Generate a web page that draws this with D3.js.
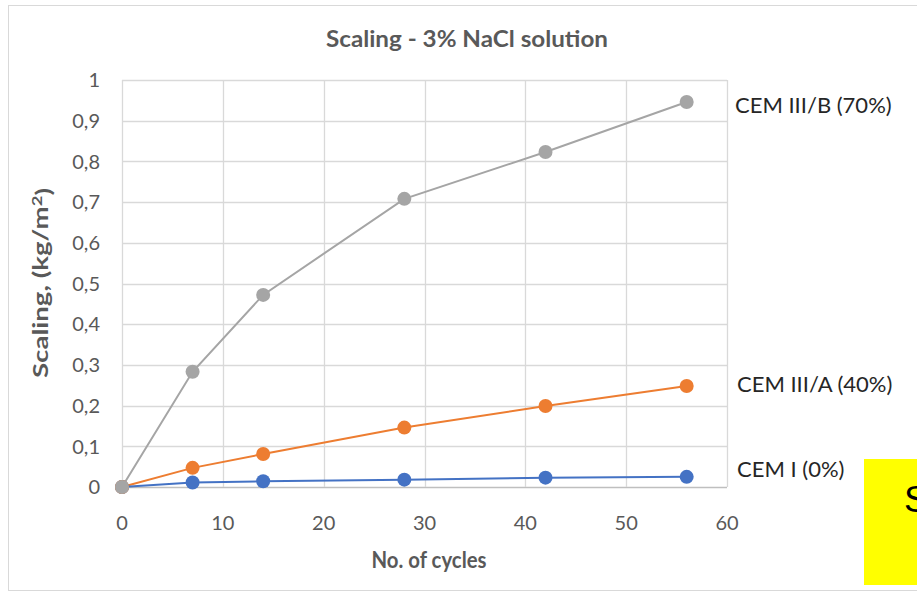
<!DOCTYPE html>
<html>
<head>
<meta charset="utf-8">
<script src="https://cdn.jsdelivr.net/npm/d3@7"></script>
<style>
  body { margin: 0; background: #fff; }
  svg { display: block; }
</style>
</head>
<body>
<div id="chart"></div>
<script>
var cycles = [0, 7, 14, 28, 42, 56]
var cemIIIB = [0, 0.283, 0.472, 0.708, 0.823, 0.946]
var cemIIIA = [0, 0.047, 0.081, 0.146, 0.199, 0.248]
var cemI = [0, 0.011, 0.014, 0.018, 0.023, 0.025]
var seriesNames = ['CEM III/B (70%)', 'CEM III/A (40%)', 'CEM I (0%)']
var xTicks = [0, 10, 20, 30, 40, 50, 60]
var yTicks = [0, 0.1, 0.2, 0.3, 0.4, 0.5, 0.6, 0.7, 0.8, 0.9, 1]

var w = 917
var h = 592
var font = "Lato, 'Open Sans', sans-serif"

var series = [
  { name: seriesNames[0], values: cemIIIB, color: '#a5a5a5' },
  { name: seriesNames[1], values: cemIIIA, color: '#ed7d31' },
  { name: seriesNames[2], values: cemI, color: '#4472c4' }
]
// label nudges (baseline below the last point)
var labelDy = [11, 6, 0]

var svg = d3.select('#chart')
  .append('svg')
  .attr('width', w)
  .attr('height', h)

// outer chart frame
svg.append('rect')
  .attr('x', 8.5)
  .attr('y', 5.5)
  .attr('width', w + 10)
  .attr('height', 585)
  .attr('fill', '#fff')
  .attr('stroke', '#d9d9d9')

var x = d3.scaleLinear().domain([0, 60]).range([122, 727])
var y = d3.scaleLinear().domain([0, 1]).range([487, 80])

// gridlines
svg.selectAll('.hgrid')
  .data(yTicks)
  .enter()
  .append('line')
  .attr('class', 'hgrid')
  .attr('x1', x(0))
  .attr('x2', x(60))
  .attr('y1', d => Math.round(y(d)) + 0.5)
  .attr('y2', d => Math.round(y(d)) + 0.5)
  .attr('stroke', d => d === 0 ? '#bfbfbf' : '#d9d9d9')
  .attr('stroke-width', 1.3)

svg.selectAll('.vgrid')
  .data(xTicks)
  .enter()
  .append('line')
  .attr('class', 'vgrid')
  .attr('x1', d => Math.round(x(d)) + 0.5)
  .attr('x2', d => Math.round(x(d)) + 0.5)
  .attr('y1', y(1))
  .attr('y2', y(0))
  .attr('stroke', '#d9d9d9')
  .attr('stroke-width', 1.3)

// tick labels
var fmt = d => d3.format('.1~f')(d).replace('.', ',')

svg.selectAll('.ylab')
  .data(yTicks)
  .enter()
  .append('text')
  .attr('x', 100)
  .attr('y', d => y(d))
  .attr('dy', '0.36em')
  .attr('text-anchor', 'end')
  .style('font-family', font)
  .style('font-size', '20px')
  .style('fill', '#595959')
  .text(fmt)

svg.selectAll('.xlab')
  .data(xTicks)
  .enter()
  .append('text')
  .attr('x', d => x(d))
  .attr('y', 530)
  .attr('text-anchor', 'middle')
  .style('font-family', font)
  .style('font-size', '20px')
  .style('fill', '#595959')
  .text(d => d)

// title and axis titles
svg.append('text')
  .attr('x', 467)
  .attr('y', 47)
  .attr('text-anchor', 'middle')
  .attr('textLength', 282)
  .attr('lengthAdjust', 'spacingAndGlyphs')
  .style('font-family', font)
  .style('font-size', '23px')
  .style('font-weight', 'bold')
  .style('fill', '#595959')
  .text('Scaling - 3% NaCl solution')

svg.append('text')
  .attr('x', 429)
  .attr('y', 568)
  .attr('text-anchor', 'middle')
  .attr('textLength', 115)
  .attr('lengthAdjust', 'spacingAndGlyphs')
  .style('font-family', font)
  .style('font-size', '23px')
  .style('font-weight', 'bold')
  .style('fill', '#595959')
  .text('No. of cycles')

var yTitle = svg.append('text')
  .attr('transform', 'translate(48,283) rotate(-90)')
  .attr('text-anchor', 'middle')
  .attr('textLength', 190)
  .attr('lengthAdjust', 'spacingAndGlyphs')
  .style('font-family', font)
  .style('font-size', '21px')
  .style('font-weight', 'bold')
  .style('fill', '#595959')
yTitle.append('tspan').text('Scaling, (kg/m')
yTitle.append('tspan').attr('dy', '-0.45em').style('font-size', '14px').text('2')
yTitle.append('tspan').attr('dy', '0.45em').text(')')

// lines and markers
var line = d3.line()
  .x((d, i) => x(cycles[i]))
  .y(d => y(d))

series.forEach(function(s) {
  svg.append('path')
    .datum(s.values)
    .attr('d', line)
    .attr('fill', 'none')
    .attr('stroke', s.color)
    .attr('stroke-width', 2)
})

series.slice().reverse().forEach(function(s) {
  svg.selectAll(null)
    .data(s.values)
    .enter()
    .append('circle')
    .attr('cx', (d, i) => x(cycles[i]))
    .attr('cy', d => y(d))
    .attr('r', 7)
    .attr('fill', s.color)
})

// series labels at the right end
svg.selectAll('.slab')
  .data(series)
  .enter()
  .append('text')
  .attr('x', (d, i) => i === 0 ? 735 : 737)
  .attr('y', (d, i) => y(d.values[d.values.length - 1]) + labelDy[i])
  .style('font-family', font)
  .style('font-size', '22px')
  .style('fill', '#262626')
  .text(d => d.name)

// yellow overlay box at the bottom right
svg.append('rect')
  .attr('x', 864)
  .attr('y', 459)
  .attr('width', 60)
  .attr('height', 126)
  .attr('fill', '#ffff00')

svg.append('text')
  .attr('x', 904)
  .attr('y', 512)
  .style('font-family', "'Liberation Sans', Arial, sans-serif")
  .style('font-size', '37px')
  .style('fill', '#000')
  .text('S')
</script>
</body>
</html>
